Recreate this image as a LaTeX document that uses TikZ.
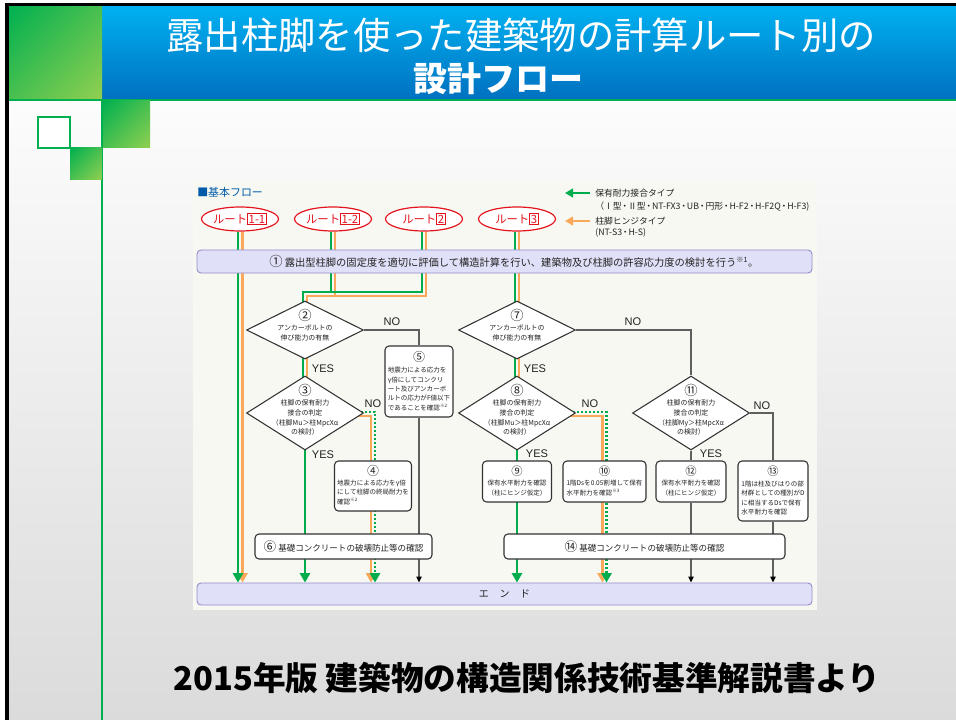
\documentclass[tikz,border=0pt]{standalone}
\usepackage{fontspec}
\setmainfont{Noto Sans CJK JP}
\newfontfamily\latf{Liberation Sans}
\usetikzlibrary{shapes.geometric,arrows.meta,calc,shadings}
\definecolor{gcol}{RGB}{0,172,75}
\definecolor{ocol}{RGB}{250,168,90}
\definecolor{lcol}{RGB}{95,95,95}
\definecolor{lavf}{RGB}{224,224,248}
\definecolor{lavd}{RGB}{150,140,205}
\definecolor{rred}{RGB}{228,20,30}
\definecolor{panel}{RGB}{246,248,241}
\definecolor{hblue1}{RGB}{0,176,240}
\definecolor{hblue2}{RGB}{0,112,192}
\definecolor{hg1}{RGB}{0,176,80}
\definecolor{hg2}{RGB}{146,208,80}
\definecolor{hgm}{RGB}{73,192,80}
\definecolor{fblue}{RGB}{0,90,170}
\definecolor{sl1}{RGB}{252,252,252}
\definecolor{sl2}{RGB}{219,219,219}
\definecolor{txt}{RGB}{35,35,35}
\pgfdeclarelayer{back}
\pgfdeclarelayer{lines}
\pgfsetlayers{back,lines,main}
\newcommand{\setfs}[2]{\fontsize{#1}{#2}\selectfont}
\newcommand{\routebox}[1]{{\setlength{\fboxsep}{0.6pt}\setlength{\fboxrule}{0.6pt}\fcolorbox{rred}{white}{\textcolor{rred}{#1}}}}
\newcommand{\nd}{{\kern-0.9pt・\kern-0.9pt}}
\tikzset{
  route/.style={ellipse, draw=rred, line width=0.9pt, fill=white, minimum width=57.75pt, minimum height=18pt, inner sep=0pt, text=rred, font=\setfs{8.5}{9}},
  lavbox/.style 2 args={rectangle, rounded corners=3pt, draw=lavd, line width=0.7pt, fill=lavf, inner sep=0pt, minimum width=#1*0.75pt, minimum height=#2*0.75pt},
  wbox/.style 2 args={rectangle, rounded corners=3pt, draw=black!80, line width=0.8pt, fill=white, inner sep=0pt, minimum width=#1*0.75pt, minimum height=#2*0.75pt},
  dia/.style={diamond, draw=black!80, line width=0.8pt, fill=white, inner sep=0pt, minimum width=87.75pt, minimum height=#1*0.75pt},
  dtxt/.style={align=center, inner sep=0pt, text=txt, font=\setfs{5.2}{7.3}},
  btxt/.style={align=#1, inner sep=0pt, text=txt, font=\setfs{4.9}{7}},
  cnum/.style={inner sep=0pt, text=txt, font=\setfs{#1}{#1}},
  yn/.style={inner sep=0pt, text=txt, font=\latf\setfs{8.3}{9}},
  leg/.style={inner sep=0pt, anchor=west, text=txt, font=\setfs{6.6}{8}},
  gl/.style={draw=gcol, line width=2pt},
  ol/.style={draw=ocol, line width=2pt},
  gdot/.style={draw=gcol, line width=2pt, dash pattern=on 1.5pt off 1.5pt},
  kl/.style={draw=lcol, line width=0.9pt},
  gtip/.style={-{Triangle[width=7.5pt,length=7pt]}},
  ktip/.style={-{Triangle[width=4pt,length=4.5pt,color=black]}},
  ltip/.style={-{Triangle[width=6.5pt,length=6pt]}},
  gsq/.style={upper left=hg1, upper right=hgm, lower left=hgm, lower right=hg2},
}
\begin{document}
\begin{tikzpicture}[x=0.75pt,y=-0.75pt]
\useasboundingbox (0,0) rectangle (956,720);
\begin{pgfonlayer}{back}
  \fill[white] (0,0) rectangle (956,720);
  \shade[top color=sl1, bottom color=sl2] (9,100) rectangle (956,720);
  \fill[black] (5,3) rectangle (956,7);
  \fill[black] (5,3) rectangle (9,720);
  \shade[top color=hblue1, bottom color=hblue2] (102,7) rectangle (956,100);
  \shade[gsq] (9,7) rectangle (102,100);
  \draw[hg1, line width=1.2pt] (9,100) -- (956,100);
  \draw[hg1, line width=1.1pt] (102,100) -- (102,720);
  \shade[gsq] (103,101) rectangle (150,148);
  \draw[hg1, line width=0.8pt, fill=white] (38,117) rectangle (70,148);
  \shade[gsq] (70,148) rectangle (101.5,180);
  \fill[panel] (193,182) rectangle (817,610);
\end{pgfonlayer}

% titles
\node[text=white, inner sep=0pt, font=\setfs{28}{30}] (t1) at (521,35) {露出柱脚を使った建築物の計算ルート別の};
\node[text=white, inner sep=0pt, font=\bfseries\setfs{25.5}{27}] (t2) at (498,79) {設計フロー};
\node[text=black, inner sep=0pt, font=\bfseries\setfs{24.5}{26}] (src) at (527,678) {2015年版 建築物の構造関係技術基準解説書より};

% header of the flow
\node[inner sep=0pt, anchor=west, text=fblue, font=\setfs{8.2}{9}] (hdr) at (197,192) {■基本フロー};

% legend
\coordinate (lgA) at (590,193); \coordinate (lgB) at (565,193);
\coordinate (lgC) at (590,221); \coordinate (lgD) at (565,221);
\node[leg] (lt1) at (595,193) {保有耐力接合タイプ};
\node[leg] (lt2) at (595,207) {（Ⅰ型\nd Ⅱ型\nd NT-FX3\nd UB\nd 円形\nd H-F2\nd H-F2Q\nd H-F3)};
\node[leg] (lt3) at (595,221) {柱脚ヒンジタイプ};
\node[leg] (lt4) at (595,233) {(NT-S3\nd H-S)};

% routes
\node[route] (r11) at (240,219) {ルート\routebox{1-1}};
\node[route] (r12) at (333,219) {ルート\routebox{1-2}};
\node[route] (r2)  at (424,219) {ルート\routebox{2}};
\node[route] (r3)  at (517,219) {ルート\routebox{3}};

% box 1
\node[lavbox={615}{23}, text=txt, font=\setfs{7.7}{9}] (b1) at (504.5,261.5)
  {\hspace*{14pt}{\setfs{10}{10}①}\ 露出型柱脚の固定度を適切に評価して構造計算を行い、建築物及び柱脚の許容応力度の検討を行う\textsuperscript{※1}。};

% diamonds
\node[dia=58] (d2) at (305,330) {};
\node[dtxt] (d2t) at (305,325) {{\setfs{10}{10}②}\\アンカーボルトの\\伸び能力の有無};
\node[dia=74] (d3) at (305,413) {};
\node[dtxt] (d3t) at (305,410) {{\setfs{10}{10}③}\\柱脚の保有耐力\\接合の判定\\（柱脚Mu＞柱MpcXα\\の検討）};
\node[dia=58] (d7) at (517,330) {};
\node[dtxt] (d7t) at (517,325) {{\setfs{10}{10}⑦}\\アンカーボルトの\\伸び能力の有無};
\node[dia=74] (d8) at (517,413) {};
\node[dtxt] (d8t) at (517,410) {{\setfs{10}{10}⑧}\\柱脚の保有耐力\\接合の判定\\（柱脚Mu＞柱MpcXα\\の検討）};
\node[dia=74] (d11) at (691,413) {};
\node[dtxt] (d11t) at (691,410) {{\setfs{10}{10}⑪}\\柱脚の保有耐力\\接合の判定\\（柱脚My＞柱MpcXα\\の検討）};

% boxes
\node[wbox={68}{71}] (b5) at (419,381.5) {};
\node[cnum=9] (n5) at (419,357) {⑤};
\node[btxt=left] (t5) at (419,389) {地震力による応力を\\γ倍にしてコンクリ\\ート及びアンカーボ\\ルトの応力がF値以下\\であることを確認\textsuperscript{※2}};

\node[wbox={77}{50}] (b4) at (373,486) {};
\node[cnum=9] (n4) at (373,471) {④};
\node[btxt=left] (t4) at (373,492.5) {地震力による応力をγ倍\\にして柱脚の終局耐力を\\確認\textsuperscript{※2}};

\node[wbox={177}{25}, text=txt, font=\setfs{6.4}{8}] (b6) at (343.5,546.5) {{\setfs{9.5}{9}⑥}\ 基礎コンクリートの破壊防止等の確認};

\node[wbox={69}{41}] (b9) at (517,481.5) {};
\node[cnum=8.5] (n9) at (517,471) {⑨};
\node[btxt=center] (t9) at (517,488) {保有水平耐力を確認\\（柱にヒンジ仮定）};

\node[wbox={83}{41}] (b10) at (604.5,481.5) {};
\node[cnum=8.5] (n10) at (604.5,471) {⑩};
\node[btxt=left] (t10) at (604.5,488) {1階Dsを0.05割増して保有\\水平耐力を確認\textsuperscript{※3}};

\node[wbox={70}{41}] (b12) at (691,481.5) {};
\node[cnum=8.5] (n12) at (691,471) {⑫};
\node[btxt=center] (t12) at (691,488) {保有水平耐力を確認\\（柱にヒンジ仮定）};

\node[wbox={70}{60}] (b13) at (773,491) {};
\node[cnum=8.5] (n13) at (773,471) {⑬};
\node[btxt=left] (t13) at (773,498) {1階は柱及びはりの部\\材群としての種別がD\\に相当するDsで保有\\水平耐力を確認};

\node[wbox={281}{25}, text=txt, font=\setfs{6.4}{8}] (b14) at (644.5,546.5) {{\setfs{9.5}{9}⑭}\ 基礎コンクリートの破壊防止等の確認};

\node[lavbox={615}{22}, text=txt, font=\setfs{7.5}{9}] (endb) at (504.5,594) {エ\hspace{8pt}ン\hspace{8pt}ド};

% junction points
\coordinate (jg) at ($(d2.center)+(0,-38)$);
\coordinate (jo) at ($(d2.center)+(0,-34)$);

% labels
\node[yn] (no2) at (392,322) {NO};
\node[yn] (ye2) at (323,369) {YES};
\node[yn] (no3) at (373,404) {NO};
\node[yn] (ye3) at (323,455) {YES};
\node[yn] (no7) at (633,322) {NO};
\node[yn] (ye7) at (535,369) {YES};
\node[yn] (no8) at (590,404) {NO};
\node[yn] (ye8) at (537,454) {YES};
\node[yn] (no11) at (762,406) {NO};
\node[yn] (ye11) at (711,454) {YES};

\begin{pgfonlayer}{lines}
  % legend arrows
  \draw[gl,ltip] (lgA) -- (lgB);
  \draw[ol,ltip] (lgC) -- (lgD);
  % route 1-1
  \draw[ol,gtip] ($(r11.south)+(2.5,0)$) -- ($(r11.south |- endb.north)+(2.5,0)$);
  \draw[gl,gtip] ($(r11.south)+(-2,0)$) -- ($(r11.south |- endb.north)+(-2,0)$);
  % routes 1-2 and 2 to diamond 2
  \draw[ol] ($(r12.south)+(2,0)$) |- ($(jo)+(2,0)$);
  \draw[ol] ($(r2.south)+(2,0)$) |- ($(jo)+(2,0)$) -- ($(d2.center)+(2,0)$);
  \draw[gl] ($(r12.south)+(-2,0)$) |- ($(jg)+(-2,0)$);
  \draw[gl] ($(r2.south)+(-2,0)$) |- ($(jg)+(-2,0)$) -- ($(d2.center)+(-2,0)$);
  % 2 -> 3
  \draw[ol] ($(d2.center)+(2,0)$) -- ($(d3.center)+(2,0)$);
  \draw[gl] ($(d2.center)+(-2,0)$) -- ($(d3.center)+(-2,0)$);
  % 2 NO -> 5 -> end
  \draw[kl] (d2.east) -| (b5.north);
  \draw[kl,ktip] (b5.south) -- (b5.south |- endb.north);
  % 3 NO -> 4 -> end
  \draw[ol,gtip] ($(d3.center)+(0,3)$) -| ($(b4.center |- endb.north)+(-2,0)$);
  \draw[gdot,gtip] ($(d3.center)+(0,-1)$) -| ($(b4.center |- endb.north)+(2,0)$);
  % 3 YES -> 6 -> end
  \draw[gl,gtip] (d3.center) -- (d3.center |- endb.north);
  % route 3 -> 7 -> 8
  \draw[ol] ($(r3.south)+(2,0)$) -- ($(d7.center)+(2,0)$);
  \draw[gl] ($(r3.south)+(-2,0)$) -- ($(d7.center)+(-2,0)$);
  \draw[ol] ($(d7.center)+(2,0)$) -- ($(d8.center)+(2,0)$);
  \draw[gl] ($(d7.center)+(-2,0)$) -- ($(d8.center)+(-2,0)$);
  % 7 NO -> 11
  \draw[kl] (d7.east) -| (d11.north);
  % 8 NO -> 10 -> end
  \draw[ol,gtip] ($(d8.center)+(0,3)$) -| ($(b10.center |- endb.north)+(-2,0)$);
  \draw[gdot,gtip] ($(d8.center)+(0,-1)$) -| ($(b10.center |- endb.north)+(2,0)$);
  % 8 YES -> 9 -> end
  \draw[gl,gtip] (d8.center) -- (d8.center |- endb.north);
  % 11 YES -> 12 -> end
  \draw[kl] (d11.south) -- (b12.north);
  \draw[kl,ktip] (b12.south) -- (b12.south |- endb.north);
  % 11 NO -> 13 -> end
  \draw[kl] (d11.east) -| (b13.north);
  \draw[kl,ktip] (b13.south) -- (b13.south |- endb.north);
\end{pgfonlayer}
\end{tikzpicture}
\end{document}
